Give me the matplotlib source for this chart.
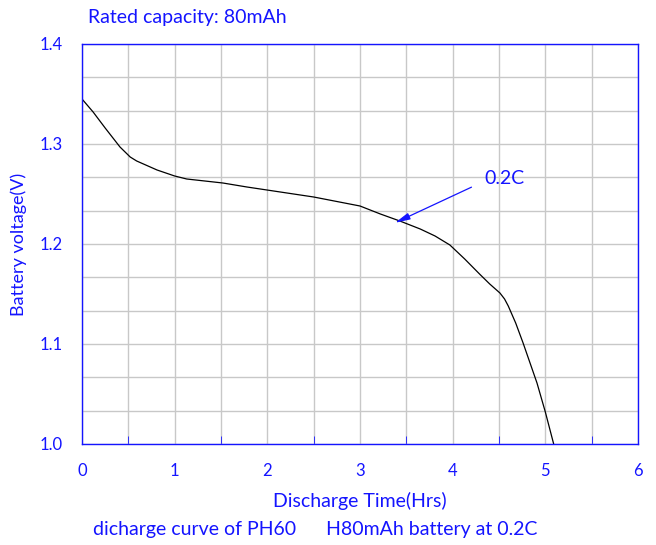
import numpy as np
import matplotlib
matplotlib.use("Agg")
import matplotlib.pyplot as plt

plt.rcParams["font.family"] = ["Lato", "DejaVu Sans"]

# discharge curve
hours = [0.0, 0.12, 0.25, 0.41, 0.52, 0.59, 0.81, 1.0, 1.13, 1.52, 1.78, 2.14, 2.5,
         3.0, 3.22, 3.43, 3.65, 3.81, 3.97, 4.13, 4.29, 4.40, 4.51, 4.56, 4.60, 4.68,
         4.76, 4.91, 5.0, 5.09]
volts = [1.345, 1.332, 1.316, 1.297, 1.287, 1.283, 1.274, 1.268, 1.265, 1.261, 1.257, 1.252, 1.247,
         1.238, 1.230, 1.223, 1.215, 1.208, 1.199, 1.185, 1.170, 1.160, 1.151, 1.145, 1.138, 1.121,
         1.101, 1.061, 1.032, 1.0]

x_ticks = [0, 1, 2, 3, 4, 5, 6]
y_ticks = [1.0, 1.1, 1.2, 1.3, 1.4]

blue = "#1414ff"

fig = plt.figure(figsize=(6.56, 5.45), dpi=100)
ax = fig.add_axes([82 / 656, 1 - 444 / 545, 556 / 656, 400 / 545])

ax.plot(hours, volts, color="black", lw=0.9)

ax.set_xlim(0, 6)
ax.set_ylim(1.0, 1.4)
ax.set_xticks(x_ticks)
ax.set_yticks(y_ticks)
ax.set_xticks(np.arange(0.5, 6, 1), minor=True)
ax.set_yticks([1.0 + k / 30 for k in range(1, 12) if k % 3], minor=True)
ax.grid(True, which="both", color="#c8c8c8", lw=1.0)
ax.tick_params(axis="both", which="major", length=0, colors=blue, labelsize=12)
ax.tick_params(axis="x", which="major", pad=14)
ax.tick_params(axis="y", which="major", pad=14)
ax.tick_params(axis="x", which="minor", direction="in", length=6, color=blue)
ax.tick_params(axis="y", which="minor", length=0)
for s in ax.spines.values():
    s.set_color(blue)
    s.set_linewidth(1.0)

ax.set_xlabel("Discharge Time(Hrs)", color=blue, fontsize=14, labelpad=9)
ax.set_ylabel("Battery voltage(V)", color=blue, fontsize=13, labelpad=9)

ax.annotate("", xy=(3.35, 1.220), xytext=(4.23, 1.258),
            arrowprops=dict(arrowstyle="-|>,head_length=0.9,head_width=0.2",
                            color=blue, lw=0.9, mutation_scale=10))
ax.text(4.34, 1.265, "0.2C", color=blue, fontsize=14, va="center", ha="left")

fig.text(88 / 656, 1 - 18 / 545, "Rated capacity: 80mAh", color=blue, fontsize=14, va="center", ha="left")
fig.text(315 / 656, 1 - 530 / 545, "dicharge curve of PH60      H80mAh battery at 0.2C",
         color=blue, fontsize=14, va="center", ha="center")

fig.savefig("out.png", dpi=100, facecolor="white")
